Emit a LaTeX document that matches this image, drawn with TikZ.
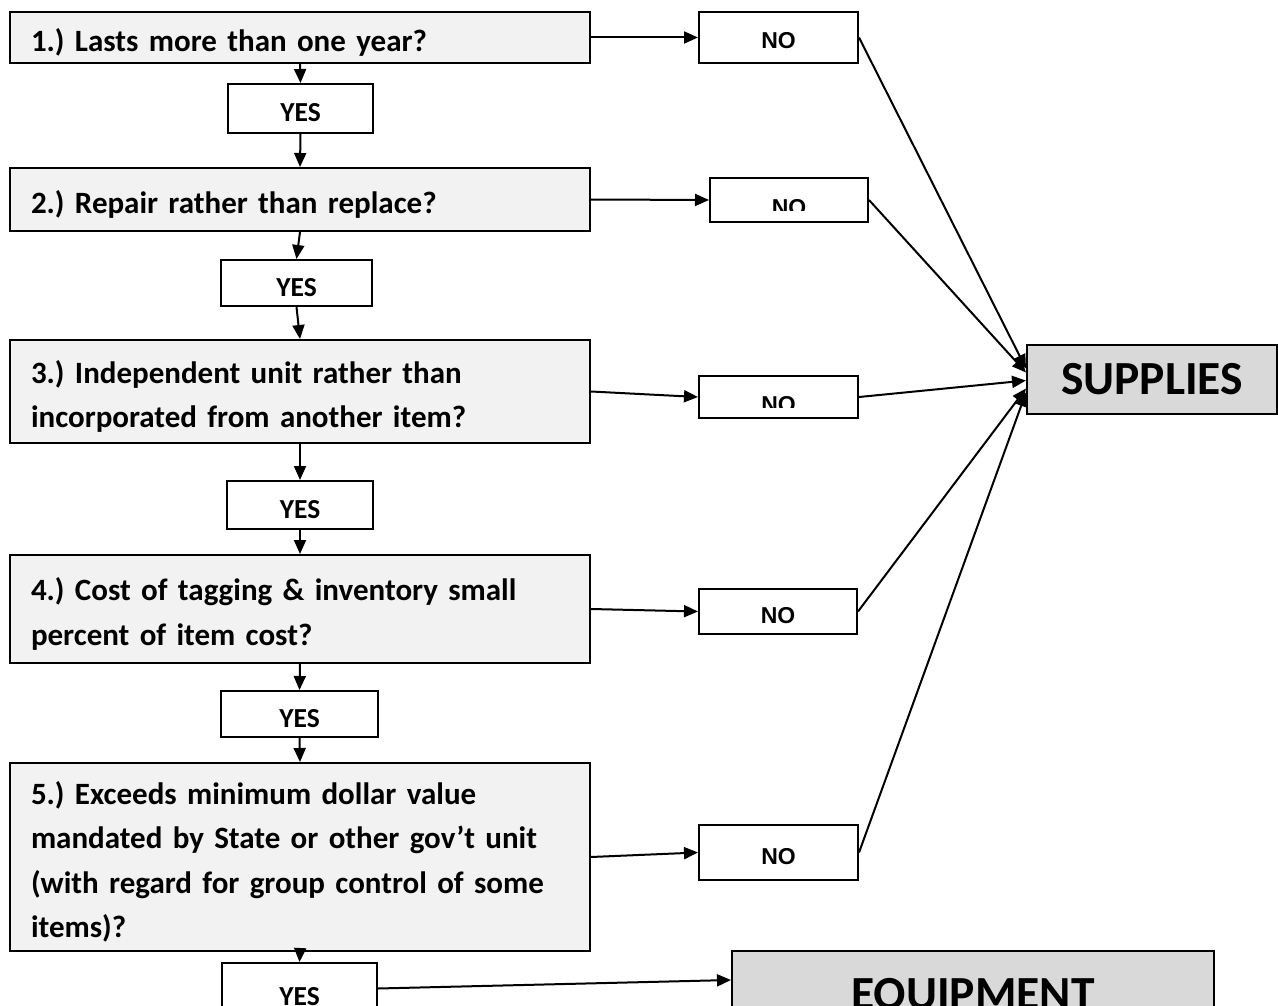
\documentclass[tikz,border=0pt]{standalone}
\usepackage{fontspec}
\setmainfont{Carlito}
\newfontfamily\nofont{Liberation Sans}
\usetikzlibrary{arrows.meta}
\definecolor{LightGray}{RGB}{242,242,242}
\definecolor{MediumGray}{RGB}{217,217,217}
\frenchspacing

\begin{document}
\begin{tikzpicture}[x=1pt,y=-1pt]
          \clip (0,0) rectangle (1278,1006);
          % styles
          \tikzstyle{QuestionStyle}=[draw,line width=2pt,fill=LightGray,text width=538pt,
            inner xsep=21pt,inner ysep=0pt,align=left,execute at begin node={\rule{0pt}{33pt}},
            font=\bfseries\fontsize{31}{44.5}\selectfont]
          \tikzstyle{YesStyle}=[draw,line width=2pt,fill=white,inner sep=0pt,text height=27pt,
            text depth=0pt,font=\bfseries\fontsize{27.5}{32}\selectfont]
          \tikzstyle{NoTextStyle}=[inner sep=0pt,font=\nofont\bfseries\fontsize{23}{27}\selectfont]
          \tikzstyle{NoStyle}=[draw,line width=2pt,fill=white,NoTextStyle,text height=23pt,text depth=0pt]
          \tikzstyle{CutNoStyle}=[path picture={
              \clip (path picture bounding box.north west)
                rectangle ([yshift=11pt]path picture bounding box.south east);
              \node[NoTextStyle,anchor=base] at ([yshift=-15pt]path picture bounding box.center) {NO};}]
          \tikzstyle{ResultStyle}=[draw,line width=2pt,fill=MediumGray,inner sep=0pt,
            font=\bfseries\fontsize{47.5}{56}\selectfont]
          \tikzstyle{EdgeStyle}=[line width=2pt,-{Triangle[length=14pt,width=12pt]}]
          % questions
          \node[QuestionStyle,minimum height=51pt] (q1) at (300,37.5) {1.) Lasts more than one year?};
          \node[QuestionStyle,minimum height=63pt] (q2) at (300,199.5) {2.) Repair rather than replace?};
          \node[QuestionStyle,minimum height=103pt] (q3) at (300,391.5)
            {3.) Independent unit rather than\\incorporated from another item?};
          \node[QuestionStyle,minimum height=108pt] (q4) at (300,609)
            {4.) Cost of tagging \& inventory small\\percent of item cost?};
          \node[QuestionStyle,minimum height=188pt] (q5) at (300,857)
            {5.) Exceeds minimum dollar value\\mandated by State or other gov’t unit\\(with regard for group control of some\\items)?};
          % yes answers
          \node[YesStyle,minimum width=145pt,minimum height=49pt] (yes1) at (300.5,108.5) {YES};
          \node[YesStyle,minimum width=151pt,minimum height=46pt] (yes2) at (296.5,283) {YES};
          \node[YesStyle,minimum width=146pt,minimum height=48pt] (yes3) at (300,505) {YES};
          \node[YesStyle,minimum width=157pt,minimum height=46pt] (yes4) at (299.5,714) {YES};
          \node[YesStyle,minimum width=155pt,minimum height=57pt] (yes5) at (299.5,991.5) {YES};
          % no answers
          \node[NoStyle,minimum width=159pt,minimum height=51pt] (no1) at (778.5,37.5) {NO};
          \node[NoStyle,CutNoStyle,minimum width=158pt,minimum height=44pt] (no2) at (789,200) {};
          \node[NoStyle,CutNoStyle,minimum width=159pt,minimum height=42pt] (no3) at (778.5,397) {};
          \node[NoStyle,minimum width=158pt,minimum height=45pt] (no4) at (778,611.5) {NO};
          \node[NoStyle,minimum width=159pt,minimum height=55pt] (no5) at (778.5,852.5) {NO};
          % results
          \node[ResultStyle,minimum width=250pt,minimum height=69pt] (sup) at (1152,379.5) {SUPPLIES};
          \node[ResultStyle,minimum width=482pt,text height=58pt,text depth=40pt,anchor=base]
            (eq) at (973,1009) {EQUIPMENT};
          % yes edges
          \draw[EdgeStyle] (q1.south) -- (yes1.north);
          \draw[EdgeStyle] (yes1.south) -- (q2.north);
          \draw[EdgeStyle] (q2.south) -- (yes2.north);
          \draw[EdgeStyle] (yes2.south) -- (q3.north);
          \draw[EdgeStyle] (q3.south) -- (yes3.north);
          \draw[EdgeStyle] (yes3.south) -- (q4.north);
          \draw[EdgeStyle] (q4.south) -- (yes4.north);
          \draw[EdgeStyle] (yes4.south) -- (q5.north);
          \draw[EdgeStyle] (q5.south) -- (yes5.north);
          \draw[EdgeStyle] ([yshift=3pt]yes5.east) -- ([yshift=20pt]eq.west);
          % no edges
          \draw[EdgeStyle] (q1.east) -- (no1.west);
          \draw[EdgeStyle] (q2.east) -- (no2.west);
          \draw[EdgeStyle] (q3.east) -- (no3.west);
          \draw[EdgeStyle] (q4.east) -- (no4.west);
          \draw[EdgeStyle] (q5.east) -- (no5.west);
          % edges to supplies
          \draw[EdgeStyle] (no1.east) -- ([yshift=11pt]sup.west);
          \draw[EdgeStyle] (no2.east) -- ([yshift=7pt]sup.west);
          \draw[EdgeStyle] (no3.east) -- ([yshift=-1pt]sup.west);
          \draw[EdgeStyle] (no4.east) -- ([yshift=-9pt]sup.west);
          \draw[EdgeStyle] (no5.east) -- ([yshift=-13pt]sup.west);
        \end{tikzpicture}
\end{document}
